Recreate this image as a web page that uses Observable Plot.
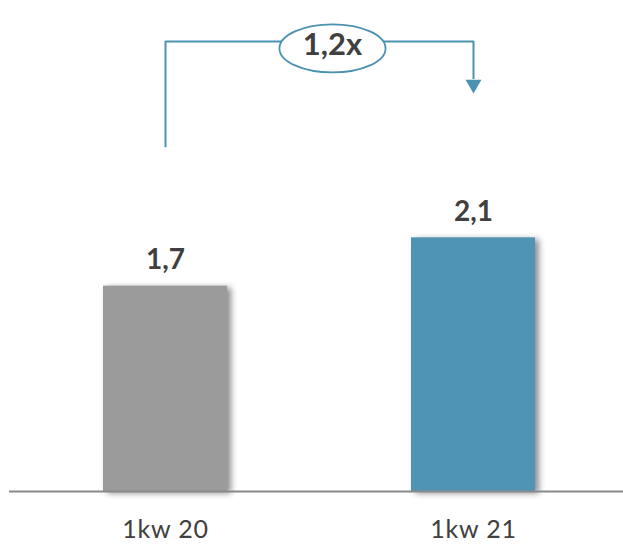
<!DOCTYPE html>
<html><head><meta charset="utf-8">
<script src="https://cdn.jsdelivr.net/npm/d3@7"></script>
<script src="https://cdn.jsdelivr.net/npm/@observablehq/plot@0.6"></script>
<style>
html,body{margin:0;padding:0;background:#fff;}
svg{font-family:Lato,"Open Sans",sans-serif;}
g[aria-label="x-axis tick label"] text{letter-spacing:0.8px;}
</style></head><body><div id="chart"></div>
<script>
// ---- data ----
const categories = ["1kw 20", "1kw 21"];
const values = [1.7, 2.1];
const valueLabels = ["1,7", "2,1"];
const growthLabel = "1,2x";
const barColors = ["#9b9b9b", "#4f94b2"];
// annotation levels in value units
const bracketTop = 3.726;
const bracketLeftStart = 2.846;
const bracketRightEnd = 3.41;
const arrowCenter = 3.37;
const ovalLevel = 3.668;

const accent = "#4b92b0";
const data = categories.map((c, i) => ({category: c, value: values[i], label: valueLabels[i]}));

const ellipseSymbol = {
  draw(ctx, size) {
    const r = Math.sqrt(size / Math.PI), rx = r * 2.21, ry = r, k = 0.5523;
    ctx.moveTo(rx, 0);
    ctx.bezierCurveTo(rx, ry * k, rx * k, ry, 0, ry);
    ctx.bezierCurveTo(-rx * k, ry, -rx, ry * k, -rx, 0);
    ctx.bezierCurveTo(-rx, -ry * k, -rx * k, -ry, 0, -ry);
    ctx.bezierCurveTo(rx * k, -ry, rx, -ry * k, rx, 0);
    ctx.closePath();
  }
};

const chart = Plot.plot({
  width: 623,
  height: 545,
  marginLeft: 9,
  marginRight: 0,
  marginTop: 0,
  marginBottom: 54,
  style: {color: "#404040", background: "#fff"},
  x: {type: "band", domain: categories, paddingInner: 0.597, paddingOuter: 0.295, align: 0.517, axis: null},
  y: {domain: [0, 2.1], range: [491, 491 - 2.1 * 120.8], axis: null},
  color: {domain: categories, range: barColors},
  marks: [
    Plot.barY(data, {x: "category", y: "value", fill: "category"}),
    Plot.ruleY([0], {stroke: "#8a8a8a", strokeWidth: 2}),
    Plot.text(data, {x: "category", y: "value", text: "label", lineAnchor: "bottom", dy: -17, fontSize: 28, fontWeight: "bold", fill: "#404040"}),
    Plot.axisX({fontSize: 25, tickSize: 0, tickPadding: 29, fill: "#404040", label: null}),
    // growth bracket
    Plot.ruleX([categories[0]], {x: d => d, y1: bracketLeftStart, y2: bracketTop, stroke: accent, strokeWidth: 2}),
    Plot.ruleX([categories[1]], {x: d => d, y1: bracketRightEnd, y2: bracketTop, stroke: accent, strokeWidth: 2}),
    Plot.link([0], {x1: () => categories[0], x2: () => categories[1], y1: bracketTop, y2: bracketTop, stroke: accent, strokeWidth: 2}),
    Plot.dot([categories[1]], {x: d => d, y: arrowCenter, symbol: "triangle", rotate: 180, r: 5.9, fill: accent, stroke: "none"}),
    Plot.dot([growthLabel], {y: ovalLevel, dx: 16, r: 24, symbol: ellipseSymbol, fill: "#fff", stroke: accent, strokeWidth: 1.8}),
    Plot.text([growthLabel], {y: ovalLevel, dx: 16, dy: -3, text: d => d, fontSize: 31, fontWeight: "bold", fill: "#404040"})
  ]
});

const barGroup = chart.querySelector('g[aria-label="bar"]');
if (barGroup) barGroup.style.filter = "drop-shadow(4px 2px 3px rgba(0,0,0,0.45))";
document.getElementById("chart").appendChild(chart);
</script>
</body></html>
